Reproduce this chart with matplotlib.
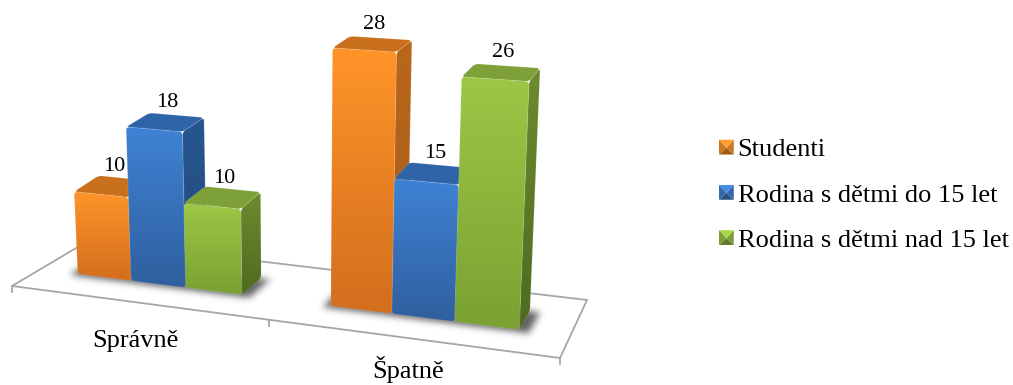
import numpy as np
import matplotlib
matplotlib.use("Agg")
import matplotlib.pyplot as plt
from matplotlib.path import Path
from matplotlib.patches import PathPatch, Polygon, Patch
from matplotlib.legend_handler import HandlerPatch
from matplotlib.colors import to_rgb

categories = ["Správně", "Špatně"]
series_names = ["Studenti", "Rodina s dětmi do 15 let", "Rodina s dětmi nad 15 let"]
studenti = [10, 28]
rodina_do_15 = [18, 15]
rodina_nad_15 = [10, 26]
series_values = [studenti, rodina_do_15, rodina_nad_15]

# per-series shades: front top, front bottom, side top, side bottom, roof
shades = [
    ("#ff9429", "#d26e1d", "#b9671b", "#a85c17", "#c9701c"),
    ("#3f82d4", "#2f5f9e", "#27568f", "#234a7c", "#2f64a8"),
    ("#9dc746", "#7aa131", "#6c8c2e", "#4e6a20", "#7ea039"),
]

plt.rcParams["font.family"] = ["Liberation Serif", "DejaVu Serif"]

fig = plt.figure(figsize=(10.13, 3.85), dpi=100, facecolor="white")
ax = fig.add_axes([0, 0, 1, 1])
ax.set_axis_off()


def floor_homography(corners):
    # corners are images of (0,0), (1,0), (1,1), (0,1) on the floor plane
    src = [(0, 0), (1, 0), (1, 1), (0, 1)]
    A, b = [], []
    for (u, v), (x, y) in zip(src, corners):
        A.append([u, v, 1, 0, 0, 0, -u * x, -v * x])
        A.append([0, 0, 0, u, v, 1, -u * y, -v * y])
        b += [x, y]
    h = np.linalg.solve(np.array(A, float), np.array(b, float))
    H = np.append(h, 1).reshape(3, 3)
    return H / (H[2] @ np.array([0.5, 0.5, 1]))


FLOOR = [(12, 286), (560, 358), (587, 300), (88, 241)]
H = floor_homography(FLOOR)
UNIT_PX = 8.72      # pixels per value unit at floor centre
NEAR_GAIN = 0.003   # taller bars come nearer the viewer and grow a little
VP_X = 295          # verticals fan out from this x
LEAN = 0.00167
ROOF_TILT = 11      # extra rise of a bar's roof towards its back edge
GROUP_CENTRE = [0.244, 0.746]
GROUP_BAR_W = [0.110, 0.112]
D_FRONT, D_BACK = 0.35, 0.68
LABEL_DROP = [45, 40]


def project(u, d, z=0.0):
    x, y, w = H @ np.array([u, d, 1.0])
    x, y = x / w, y / w
    tilt = ROOF_TILT * (d - D_FRONT) if z > 0 else 0.0
    rise = UNIT_PX * z * (1 + NEAR_GAIN * (z - 18)) / w
    return np.array([x + (x - VP_X) * z * LEAN, y - rise - tilt])


def rounded_path(pts, r):
    pts = [np.asarray(p, float) for p in pts]
    n = len(pts)
    verts, codes = [], []
    for i in range(n):
        p, prev, nxt = pts[i], pts[i - 1], pts[(i + 1) % n]
        a = p + (prev - p) * min(r / np.linalg.norm(prev - p), 0.5)
        b = p + (nxt - p) * min(r / np.linalg.norm(nxt - p), 0.5)
        verts += [a, p, b]
        codes += [Path.MOVETO if i == 0 else Path.LINETO, Path.CURVE3, Path.CURVE3]
    verts.append(verts[0])
    codes.append(Path.CLOSEPOLY)
    return Path(verts, codes)


def gradient_face(pts, top, bottom, zorder, r=3.5):
    # polygon filled with a vertical colour ramp
    pts = np.array(pts)
    xmin, ymin = pts.min(axis=0)
    xmax, ymax = pts.max(axis=0)
    t = np.linspace(0, 1, 128)[:, None, None]
    img = np.array(to_rgb(top))[None, None, :] * (1 - t) + np.array(to_rgb(bottom))[None, None, :] * t
    im = ax.imshow(img, extent=(xmin, xmax, ymax, ymin), aspect="auto",
                   interpolation="bilinear", zorder=zorder)
    clip = PathPatch(rounded_path(pts, r), transform=ax.transData, fc="none", ec="none")
    ax.add_patch(clip)
    im.set_clip_path(clip)
    ax.add_patch(PathPatch(rounded_path(pts, r), fc="none", ec="white", lw=0.8,
                           alpha=0.10, zorder=zorder + 0.1))


def soft_shadow(quad, sigma, strength, zorder):
    # blurred dark footprint laid on the floor
    xs, ys = np.meshgrid(np.arange(1013) + 0.5, np.arange(385) + 0.5)
    inside = Path(quad).contains_points(np.c_[xs.ravel(), ys.ravel()]).reshape(xs.shape).astype(float)
    radius = int(3 * sigma)
    kernel = np.exp(-0.5 * (np.arange(-radius, radius + 1) / sigma) ** 2)
    kernel /= kernel.sum()
    blurred = np.apply_along_axis(lambda c: np.convolve(c, kernel, mode="same"), 0, inside)
    blurred = np.apply_along_axis(lambda c: np.convolve(c, kernel, mode="same"), 1, blurred)
    rgba = np.zeros(xs.shape + (4,))
    rgba[..., :3] = 0.18
    rgba[..., 3] = blurred * strength
    ax.imshow(rgba, extent=(0, 1013, 385, 0), aspect="auto", zorder=zorder)


# floor outline and category ticks
floor_color = "#a6a6a6"
ax.add_patch(Polygon(FLOOR, closed=True, fc="white", ec=floor_color, lw=1.3, zorder=1))
for u in (0, 0.5, 1):
    x, y = project(u, 0)
    ax.plot([x, x], [y, y + 6], color=floor_color, lw=1.3, zorder=1)

z = 5.0
for g, cat in enumerate(categories):
    centre = GROUP_CENTRE[g]
    bar_w = GROUP_BAR_W[g]
    left = centre - 1.5 * bar_w
    right = centre + 1.5 * bar_w

    footprint = [project(left - 0.012, D_FRONT - 0.035), project(right + 0.018, D_FRONT - 0.035),
                 project(right + 0.018, D_BACK), project(left - 0.012, D_BACK)]
    soft_shadow(footprint, 3.5, 0.75, 2 + g * 0.1)

    for s, values in enumerate(series_values):
        v = values[g]
        u0 = left + s * bar_w
        u1 = u0 + bar_w
        ftop, fbot, stop, sbot, roof = shades[s]

        fl, fr = project(u0, D_FRONT), project(u1, D_FRONT)
        bl, br = project(u0, D_BACK), project(u1, D_BACK)
        flt, frt = project(u0, D_FRONT, v), project(u1, D_FRONT, v)
        blt, brt = project(u0, D_BACK, v), project(u1, D_BACK, v)

        gradient_face([fr, br, brt, frt], stop, sbot, z)
        gradient_face([flt, frt, brt, blt], roof, roof, z + 1)
        gradient_face([fl, fr, frt, flt], ftop, fbot, z + 2)
        z += 3

        label = (flt + brt) / 2
        ax.text(label[0] + 2, label[1] - 10, str(v), ha="center", va="bottom",
                fontsize=16, color="black", zorder=50)

    x, y = project(0.25 + 0.5 * g, 0)
    ax.text(x - 1.5, y + LABEL_DROP[g], cat, ha="center", va="baseline", fontsize=19,
            color="black", zorder=50)


class BevelHandler(HandlerPatch):
    # small square key with four shaded bevel facets
    def create_artists(self, legend, orig, xd, yd, width, height, fontsize, trans):
        base = np.array(to_rgb(orig.get_facecolor()))
        side = 0.56 * fontsize
        x0 = -xd
        y0 = -yd + (height - side) / 2
        c = [(x0, y0), (x0 + side, y0), (x0 + side, y0 + side), (x0, y0 + side)]
        m = (x0 + side / 2, y0 + side * 0.45)
        factors = [0.62, 0.8, 1.08, 0.8]
        out = []
        for i, f in enumerate(factors):
            poly = Polygon([c[i], c[(i + 1) % 4], m], closed=True,
                           fc=np.clip(base * f, 0, 1), ec="none", transform=trans)
            out.append(poly)
        return out


handles = [Patch(facecolor=shades[i][0], label=series_names[i]) for i in range(3)]
ax.legend(handles=handles, loc="center left", bbox_to_anchor=(719 / 1013, 1 - 194.5 / 385),
          frameon=False, fontsize=19, handlelength=0.71, handleheight=0.78,
          handletextpad=0.0, labelspacing=0.80, borderpad=0, borderaxespad=0,
          handler_map={Patch: BevelHandler()})

ax.set_xlim(0, 1013)
ax.set_ylim(385, 0)
fig.savefig("out.png", dpi=100, facecolor="white")
